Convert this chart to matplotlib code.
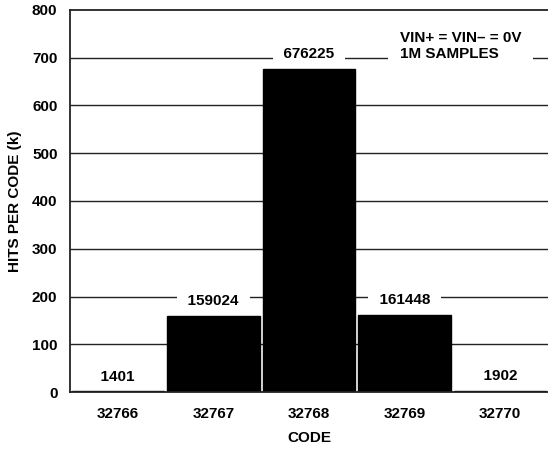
import numpy as np
import matplotlib.pyplot as plt

plt.rcParams['font.family'] = ['Liberation Sans', 'DejaVu Sans']
plt.rcParams['font.weight'] = 'bold'

# data
codes = [32766, 32767, 32768, 32769, 32770]
hits = [1401, 159024, 676225, 161448, 1902]
code_labels = ['32766', '32767', '32768', '32769', '32770']
yticks = [0, 100, 200, 300, 400, 500, 600, 700, 800]

hits_k = np.array(hits) / 1000.0
fs = 11

fig = plt.figure(figsize=(5.48, 4.5), dpi=100)
ax = fig.add_axes([70 / 548, 1 - 392 / 450, 478 / 548, 382 / 450])

# gridlines behind the bars
for y in yticks[1:-1]:
    ax.axhline(y, color='#222222', lw=1.0, zorder=1)

ax.bar(codes, hits_k, width=0.965, color='black', lw=1.0, edgecolor='black', zorder=2)

# value labels, white box cuts the gridline
for c, h, v in zip(codes, hits_k, hits):
    ax.text(c, h + 31, '  %d  ' % v, ha='center', va='center', fontsize=fs,
            fontweight='bold', zorder=3,
            bbox=dict(boxstyle='square,pad=0.15', fc='white', ec='none'))

ax.text(0.69, 0.906, 'VIN+ = VIN\u2013 = 0V\n1M SAMPLES', transform=ax.transAxes,
        ha='left', va='center', fontsize=fs, fontweight='bold', linespacing=1.25,
        zorder=3, bbox=dict(boxstyle='square,pad=0.75', fc='white', ec='none'))

ax.set_xlim(32765.5, 32770.5)
ax.set_ylim(0, 800)
ax.set_xticks(codes)
ax.set_xticklabels(code_labels)
ax.set_yticks(yticks)
ax.tick_params(length=0, labelsize=fs, pad=9)
ax.tick_params(axis='x', pad=11)
for lab in ax.get_xticklabels() + ax.get_yticklabels():
    lab.set_fontweight('bold')

ax.set_xlabel('CODE', fontsize=fs, fontweight='bold', labelpad=7)
ax.set_ylabel('HITS PER CODE (k)', fontsize=fs, fontweight='bold', labelpad=7)

ax.spines['right'].set_visible(False)
for s in ['left', 'top', 'bottom']:
    ax.spines[s].set_linewidth(1.3)
    ax.spines[s].set_color('#222222')

plt.savefig('out.png', dpi=100)
plt.close()
